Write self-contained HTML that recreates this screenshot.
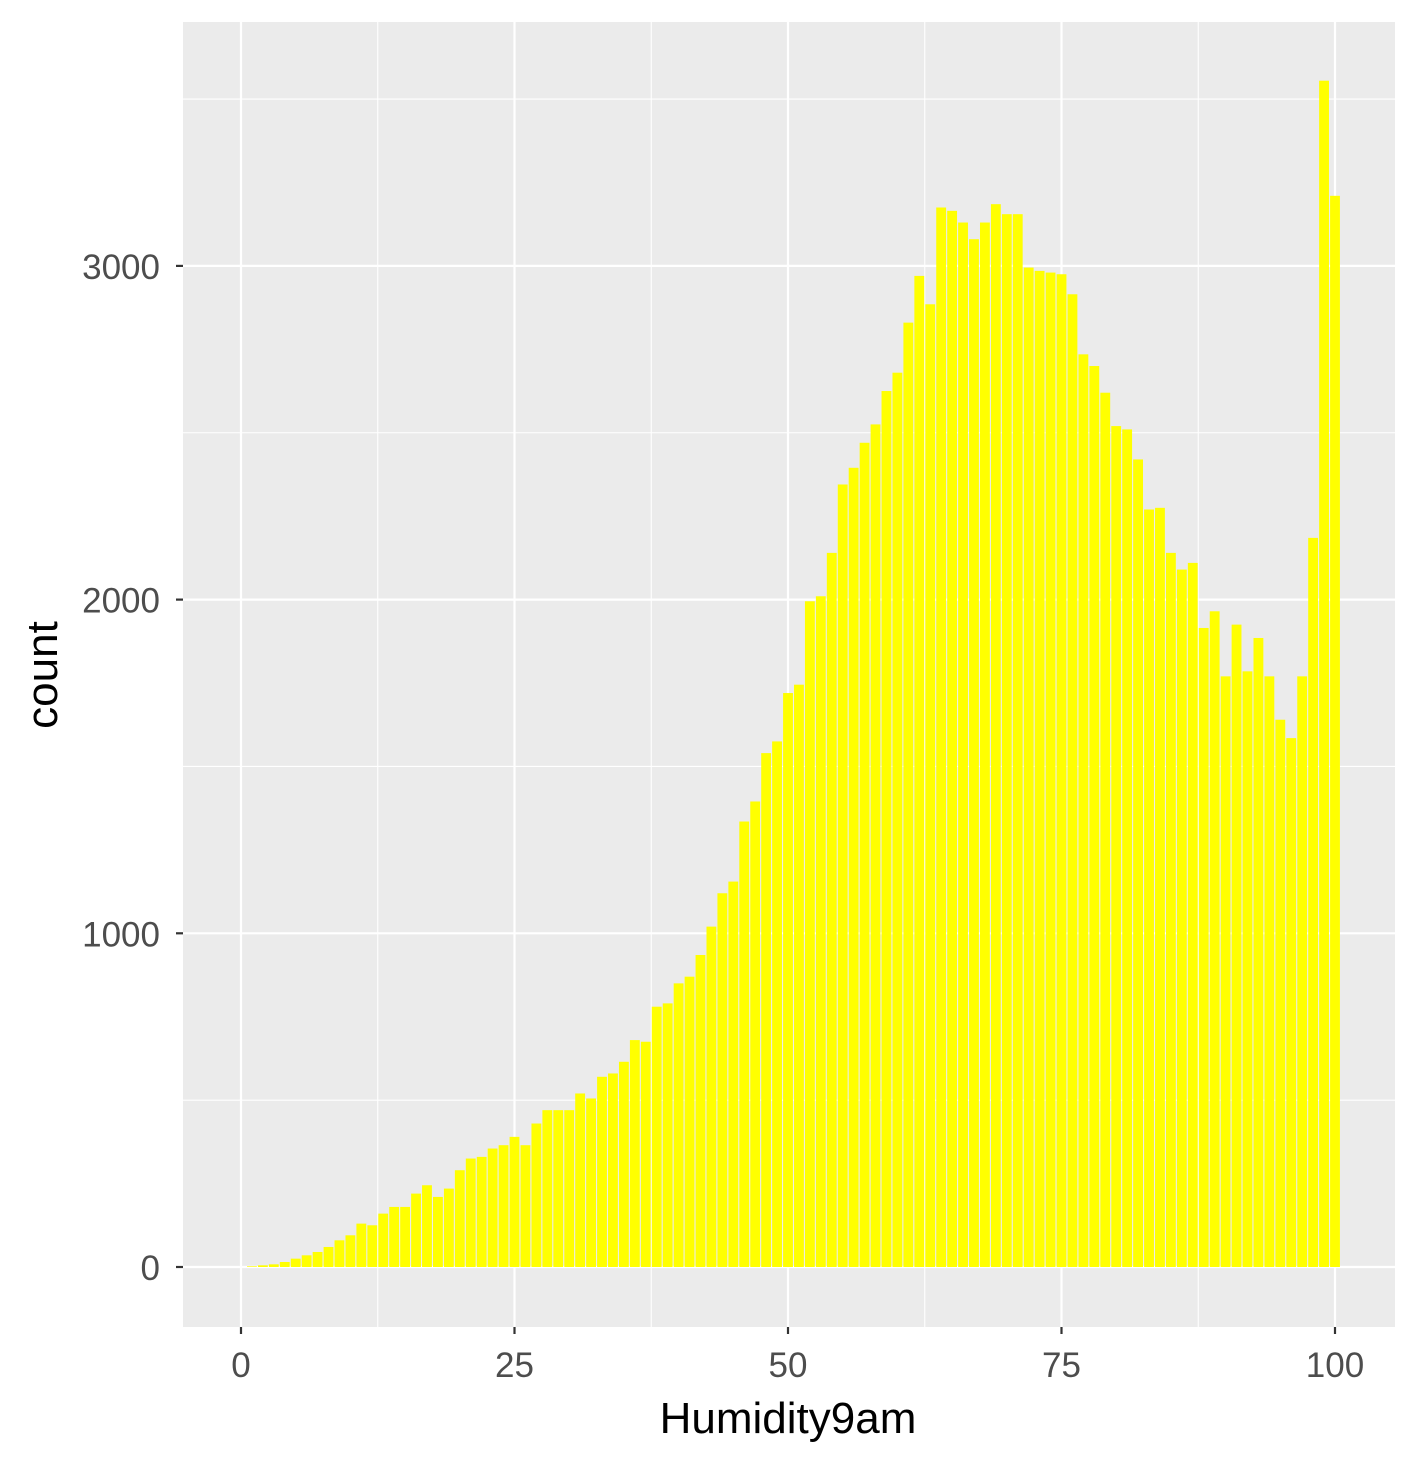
<!DOCTYPE html>
<html><head><meta charset="utf-8"><style>
html,body{margin:0;padding:0;background:#fff;}
svg{display:block;font-family:"Liberation Sans",Arial,sans-serif;}
</style></head><body>
<svg id="chart" width="1418" height="1465" viewBox="0 0 1418 1465">
<rect x="183" y="22" width="1212" height="1305" fill="#EBEBEB"/>
<g id="grid"></g>
<g id="bars"></g>
<g id="axes"></g>
<text x="788" y="1433" font-size="44" text-anchor="middle" fill="#000">Humidity9am</text>
<text transform="translate(57,675) rotate(-90)" font-size="44" text-anchor="middle" fill="#000">count</text>
</svg>
<script>
const humidity = Array.from({length:101},(_,i)=>i);
const counts = [0,2,5,8,15,25,35,45,60,80,95,130,125,160,180,180,220,245,210,235,290,325,330,355,365,390,365,430,470,470,470,520,505,570,580,615,680,675,780,790,850,870,935,1020,1120,1155,1335,1395,1540,1575,1720,1745,1995,2010,2140,2345,2395,2470,2525,2625,2680,2830,2970,2885,3175,3165,3130,3080,3130,3185,3155,3155,2995,2985,2980,2975,2915,2735,2700,2620,2520,2510,2420,2270,2275,2140,2090,2110,1915,1965,1770,1925,1785,1885,1770,1640,1585,1770,2185,3555,3210];
const xTicks = [0,25,50,75,100];
const yTicks = [0,1000,2000,3000];
const xMinor = [12.5,37.5,62.5,87.5];
const yMinor = [500,1500,2500,3500];

const NS="http://www.w3.org/2000/svg";
const X = v => 241 + v*10.94;
const Y = v => 1267 - v*0.3337;
const P={l:183,r:1395,t:22,b:1327};
function mk(tag,attrs,parent){const e=document.createElementNS(NS,tag);for(const k in attrs)e.setAttribute(k,attrs[k]);parent.appendChild(e);return e;}
const grid=document.getElementById('grid'),bars=document.getElementById('bars'),axes=document.getElementById('axes');
yMinor.forEach(v=>{const l=mk('line',{x1:P.l,x2:P.r,y1:Y(v),y2:Y(v),stroke:'#fff','stroke-width':1.1},grid);

});
xMinor.forEach(v=>{const l=mk('line',{x1:X(v),x2:X(v),y1:P.t,y2:P.b,stroke:'#fff','stroke-width':1.1},grid);

});
yTicks.forEach(v=>{const l=mk('line',{x1:P.l,x2:P.r,y1:Y(v),y2:Y(v),stroke:'#fff','stroke-width':2.2},grid);


const t=mk('line',{x1:176,x2:183,y1:Y(v),y2:Y(v),stroke:'#333','stroke-width':2.2},axes);


const tx=mk('text',{x:160,y:Y(v)+13,'font-size':35,'text-anchor':'end',fill:'#4D4D4D'},axes);tx.textContent=v;

});
xTicks.forEach(v=>{const l=mk('line',{x1:X(v),x2:X(v),y1:P.t,y2:P.b,stroke:'#fff','stroke-width':2.2},grid);


const t=mk('line',{x1:X(v),x2:X(v),y1:P.b,y2:P.b+7,stroke:'#333','stroke-width':2.2},axes);


const tx=mk('text',{x:X(v),y:1377,'font-size':35,'text-anchor':'middle',fill:'#4D4D4D'},axes);tx.textContent=v;

});
humidity.forEach((h,i)=>{const c=counts[i];if(!c)return;
const w=10.94*0.9;
const r=mk('rect',{x:X(h)-w/2,y:Y(c),width:w,height:Y(0)-Y(c),fill:'#FFFF00'},bars);

});
</script>
</body></html>
